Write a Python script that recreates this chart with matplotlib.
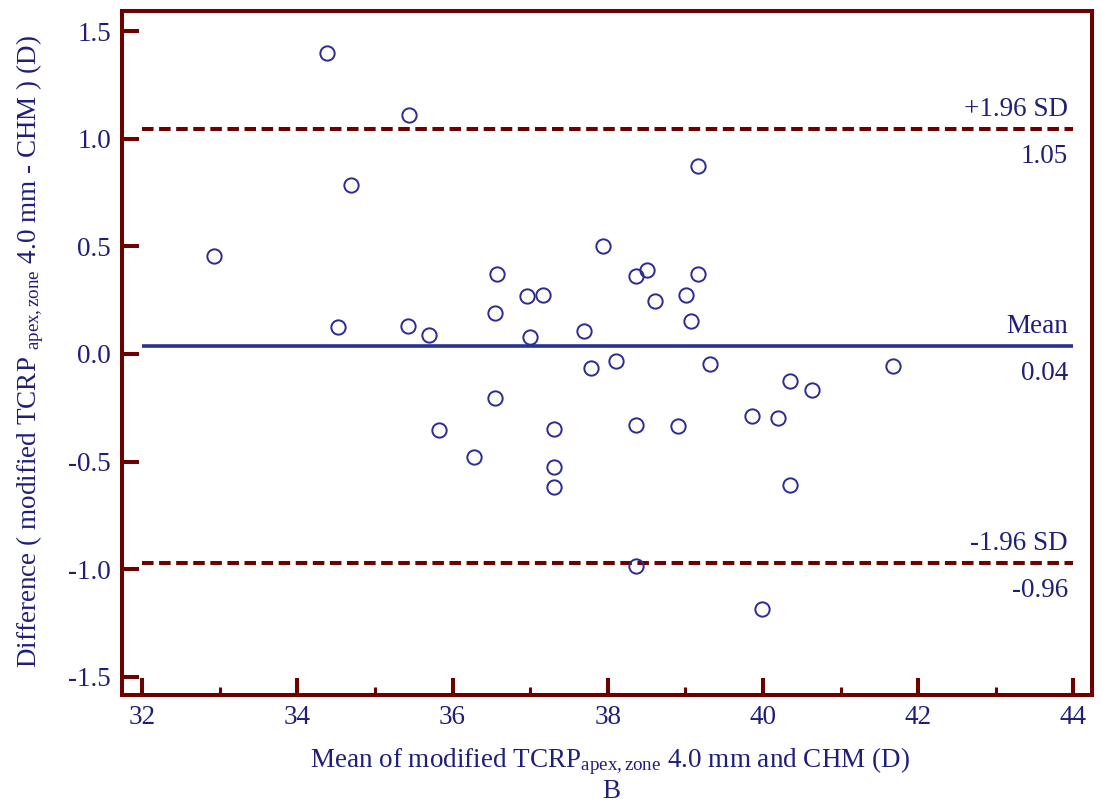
import matplotlib
matplotlib.use("Agg")
import matplotlib.pyplot as plt
from matplotlib.ticker import MultipleLocator

plt.rcParams['font.family'] = ['Liberation Serif', 'DejaVu Serif']
plt.rcParams['mathtext.fontset'] = 'custom'
plt.rcParams['mathtext.rm'] = 'Liberation Serif'
plt.rcParams['mathtext.it'] = 'Liberation Serif:italic'
plt.rcParams['lines.scale_dashes'] = False

# ---- data ----
mean_values = [34.38, 35.44, 34.69, 32.92, 34.53, 35.42, 35.70,
               39.16, 37.94, 36.57, 38.36, 38.50, 39.16, 36.96, 37.16,
               38.61, 39.01, 36.55, 39.07, 37.00, 37.69, 38.10, 37.78,
               39.32, 36.55, 35.82, 37.31, 38.36, 38.90, 36.27, 37.31,
               37.31, 38.37, 39.86, 41.68, 40.35, 40.63, 40.19, 40.35,
               39.99]
diff_values = [1.399, 1.111, 0.784, 0.455, 0.124, 0.130, 0.090,
               0.875, 0.502, 0.372, 0.364, 0.392, 0.372, 0.268, 0.274,
               0.246, 0.274, 0.189, 0.155, 0.077, 0.108, -0.034, -0.067,
               -0.046, -0.204, -0.353, -0.347, -0.329, -0.335, -0.477, -0.524,
               -0.617, -0.984, -0.288, -0.056, -0.125, -0.166, -0.296, -0.611,
               -1.187]

mean_diff = 0.038
upper_loa = 1.045
lower_loa = -0.970
line_labels_above = ["+1.96 SD", "Mean", "-1.96 SD"]
line_labels_below = ["1.05", "0.04", "-0.96"]

x_ticks = [32, 34, 36, 38, 40, 42, 44]
y_ticks = [-1.5, -1.0, -0.5, 0.0, 0.5, 1.0, 1.5]

xlabel = r"Mean of modified TCRP$_{\mathrm{apex,zone}}$ 4.0 mm and CHM (D)"
ylabel = r"Difference ( modified TCRP $_{\mathrm{apex,zone}}$ 4.0 mm - CHM ) (D)"
panel = "B"

# ---- style ----
MAROON = "#6e0000"
NAVY_TXT = "#1f1f7a"
NAVY_MK = "#2b2b96"
NAVY_LN = "#2a3192"
FS = 19.5

fig = plt.figure(figsize=(11.02, 8.02), dpi=100)
ax = fig.add_axes([0.1107, 0.1330, 0.8802, 0.8529])
ax.set_xlim(31.74, 44.24)
ax.set_ylim(-1.586, 1.5915)

for s in ax.spines.values():
    s.set_color(MAROON)
    s.set_linewidth(2.9)

ax.set_xticks(x_ticks)
ax.set_xticklabels([str(t) for t in x_ticks])
ax.set_yticks(y_ticks)
ax.set_yticklabels([f"{t:.1f}" for t in y_ticks])
ax.xaxis.set_minor_locator(MultipleLocator(1))
ax.tick_params(axis='both', which='major', direction='in', length=12,
               width=2.9, color=MAROON, labelcolor=NAVY_TXT, labelsize=FS, pad=8)
ax.tick_params(axis='x', which='major', pad=7)
ax.tick_params(axis='x', which='minor', direction='in', length=6,
               width=2.2, color=MAROON)
ax.tick_params(axis='y', which='minor', left=False)

# limits of agreement and mean
ax.hlines([upper_loa, lower_loa], 32, 44, colors=MAROON, linewidth=2.9,
          linestyles=(0, (8.3, 4.0)), zorder=2)
ax.hlines([mean_diff], 32, 44, colors=NAVY_LN, linewidth=2.6, zorder=2)

ax.plot(mean_values, diff_values, linestyle='none', marker='o',
        markersize=10.3, markerfacecolor='none', markeredgecolor=NAVY_MK,
        markeredgewidth=1.4, zorder=3)

for yv, above, below in zip([upper_loa, mean_diff, lower_loa],
                            line_labels_above, line_labels_below):
    ax.annotate(above, xy=(44, yv), xytext=(-4, 9.5), textcoords='offset points',
                ha='right', va='baseline', fontsize=FS, color=NAVY_TXT)
    ax.annotate(below, xy=(44, yv), xytext=(-4, -24.5), textcoords='offset points',
                ha='right', va='baseline', fontsize=FS, color=NAVY_TXT)

fig.text(610 / 1102, 1 - 766.7 / 802, xlabel, ha='center', va='baseline',
         fontsize=FS, color=NAVY_TXT)
fig.text(611.7 / 1102, 1 - 797.5 / 802, panel, ha='center', va='baseline',
         fontsize=FS, color=NAVY_TXT)
fig.text(30 / 1102, 1 - 352 / 802, ylabel, rotation=90, ha='center',
         va='center', fontsize=FS, color=NAVY_TXT)

fig.savefig("out.png", dpi=100, facecolor='white')
